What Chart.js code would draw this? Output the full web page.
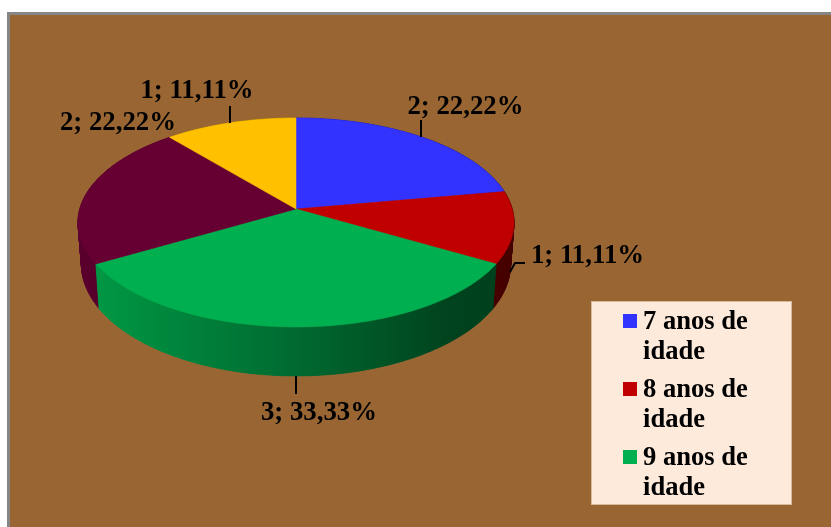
<!DOCTYPE html>
<html>
<head>
<meta charset="utf-8">
<style>
  html, body { margin: 0; padding: 0; background: #fff; overflow: hidden; }
  canvas { display: block; }
</style>
<script src="https://cdn.jsdelivr.net/npm/chart.js@4"></script>
</head>
<body>
<canvas id="chart" width="831" height="527"></canvas>
<script>
const categories = ['7 anos de idade', '8 anos de idade', '9 anos de idade', '', ''];
const values = [2, 1, 3, 2, 1];
const colors = ['#3333FF', '#C00000', '#00B050', '#660033', '#FFC000'];
const legendLines = [['7 anos de', 'idade'], ['8 anos de', 'idade'], ['9 anos de', 'idade']];

const FONT = 'bold 26.8px "Liberation Serif"';
const LEGEND_FONT = 'bold 26.6px "Liberation Serif"';

// perspective of the pie: top face and bottom rim of the cylinder
const TILT = -0.129;
const topPlane = { k: 216.2, a: 102.76, d: 0 };
const bottomPlane = { k: 212.8, a: 110, d: 40.7 };

function project(el, plane, angle) {
    const u = Math.cos(angle);
    const v = Math.sin(angle);
    const w = 1 + TILT * v;
    return [el.x + plane.k * u / w, el.y + plane.d + plane.a * v / w];
}

function shade(hex, f) {
    const n = parseInt(hex.slice(1), 16);
    const r = Math.round(((n >> 16) & 255) * f);
    const g = Math.round(((n >> 8) & 255) * f);
    const b = Math.round((n & 255) * f);
    return `rgb(${r},${g},${b})`;
}

function drawWalls(ctx, arcs) {
    // far side first, so the green wall ends up in front
    const order = arcs.slice().sort((p, q) =>
        Math.sin((p.el.startAngle + p.el.endAngle) / 2) - Math.sin((q.el.startAngle + q.el.endAngle) / 2));
    order.forEach(({ el, color }) => {
        const grad = ctx.createLinearGradient(el.x - topPlane.k, 0, el.x + topPlane.k, 0);
        grad.addColorStop(0, shade(color, 0.88));
        grad.addColorStop(0.5, shade(color, 0.6));
        grad.addColorStop(0.85, shade(color, 0.38));
        grad.addColorStop(1, shade(color, 0.36));
        ctx.fillStyle = grad;
        ctx.strokeStyle = grad;
        ctx.lineWidth = 0.6;
        const steps = Math.ceil((el.endAngle - el.startAngle) / 0.01);
        const at = i => el.startAngle + (el.endAngle - el.startAngle) * i / steps;

        // strips fill the silhouette where the rim folds behind the top face
        for (let i = 0; i < steps; i++) {
            const t0 = project(el, topPlane, at(i));
            const t1 = project(el, topPlane, at(i + 1));
            const b0 = project(el, bottomPlane, at(i));
            const b1 = project(el, bottomPlane, at(i + 1));
            ctx.beginPath();
            ctx.moveTo(t0[0], t0[1]);
            ctx.lineTo(t1[0], t1[1]);
            ctx.lineTo(b1[0], b1[1]);
            ctx.lineTo(b0[0], b0[1]);
            ctx.closePath();
            ctx.fill();
            ctx.stroke();
        }

        // one polygon on top hides the seams between the strips
        ctx.beginPath();
        for (let i = 0; i <= steps; i++) {
            const p = project(el, topPlane, at(i));
            i ? ctx.lineTo(p[0], p[1]) : ctx.moveTo(p[0], p[1]);
        }
        for (let i = steps; i >= 0; i--) {
            const p = project(el, bottomPlane, at(i));
            ctx.lineTo(p[0], p[1]);
        }
        ctx.closePath();
        ctx.fill();
    });
}

function drawTop(ctx, arcs) {
    arcs.forEach(({ el, color }) => {
        const steps = Math.ceil((el.endAngle - el.startAngle) / 0.01);
        ctx.fillStyle = color;
        ctx.strokeStyle = color;
        ctx.lineWidth = 0.5;
        ctx.beginPath();
        ctx.moveTo(el.x, el.y);
        for (let i = 0; i <= steps; i++) {
            const a = el.startAngle + (el.endAngle - el.startAngle) * i / steps;
            const p = project(el, topPlane, a);
            ctx.lineTo(p[0], p[1]);
        }
        ctx.closePath();
        ctx.fill();
        ctx.stroke();
    });
}

function drawLabels(ctx) {
    const total = values.reduce((s, v) => s + v, 0);
    const text = i => `${values[i]}; ${(values[i] / total * 100).toFixed(2).replace('.', ',')}%`;

    ctx.strokeStyle = '#000';
    ctx.lineWidth = 2;
    const leaders = [
        [[421, 120], [421, 137]],
        [[525, 263], [515, 263], [510, 272]],
        [[296, 376], [296, 394]],
        [[230, 106], [230, 123]]
    ];
    leaders.forEach(pts => {
        ctx.beginPath();
        pts.forEach((p, i) => i ? ctx.lineTo(p[0], p[1]) : ctx.moveTo(p[0], p[1]));
        ctx.stroke();
    });

    ctx.fillStyle = '#000';
    ctx.font = FONT;
    ctx.textAlign = 'center';
    ctx.textBaseline = 'middle';
    ctx.fillText(text(0), 465.5, 107.5);
    ctx.fillText(text(1), 587.5, 256.5);
    ctx.fillText(text(2), 319, 413);
    ctx.fillText(text(3), 118, 123.5);
    ctx.fillText(text(4), 197, 91);
}

function drawLegend(ctx) {
    ctx.fillStyle = '#FDEADA';
    ctx.fillRect(592, 302, 199, 202);
    ctx.strokeStyle = '#D9B99B';
    ctx.lineWidth = 1;
    ctx.strokeRect(591.5, 301.5, 200, 203);

    ctx.font = LEGEND_FONT;
    ctx.textAlign = 'left';
    ctx.textBaseline = 'middle';
    legendLines.forEach((lines, i) => {
        const top = 321 + i * 68;
        ctx.fillStyle = colors[i];
        ctx.fillRect(623, top - 7, 14, 14);
        ctx.fillStyle = '#000';
        lines.forEach((line, j) => ctx.fillText(line, 643, top + 1 + j * 30.5));
    });
}

const pie3d = {
    id: 'pie3d',
    beforeDraw(chart) {
        const ctx = chart.ctx;
        ctx.save();
        ctx.fillStyle = '#fff';
        ctx.fillRect(0, 0, chart.width, chart.height);
        ctx.fillStyle = '#868686';
        ctx.fillRect(7, 12, chart.width - 7, chart.height - 12);
        ctx.fillStyle = '#996633';
        ctx.fillRect(10, 15, chart.width - 10, chart.height - 15);
        ctx.restore();
    },
    beforeDatasetsDraw(chart) {
        const ctx = chart.ctx;
        const arcs = chart.getDatasetMeta(0).data.map((el, i) => ({ el, color: colors[i] }));
        ctx.save();
        drawWalls(ctx, arcs);
        drawTop(ctx, arcs);
        drawLabels(ctx);
        drawLegend(ctx);
        ctx.restore();
        return false; // the flat arcs are replaced by the projected ones
    }
};

new Chart(document.getElementById('chart'), {
    type: 'pie',
    data: {
        labels: categories,
        datasets: [{ data: values, backgroundColor: colors, borderWidth: 0 }]
    },
    options: {
        responsive: false,
        devicePixelRatio: 1,
        animation: false,
        layout: { padding: { left: 87, right: 326, top: 0, bottom: 109 } },
        plugins: { legend: { display: false }, tooltip: { enabled: false } }
    },
    plugins: [pie3d]
});
</script>
</body>
</html>
